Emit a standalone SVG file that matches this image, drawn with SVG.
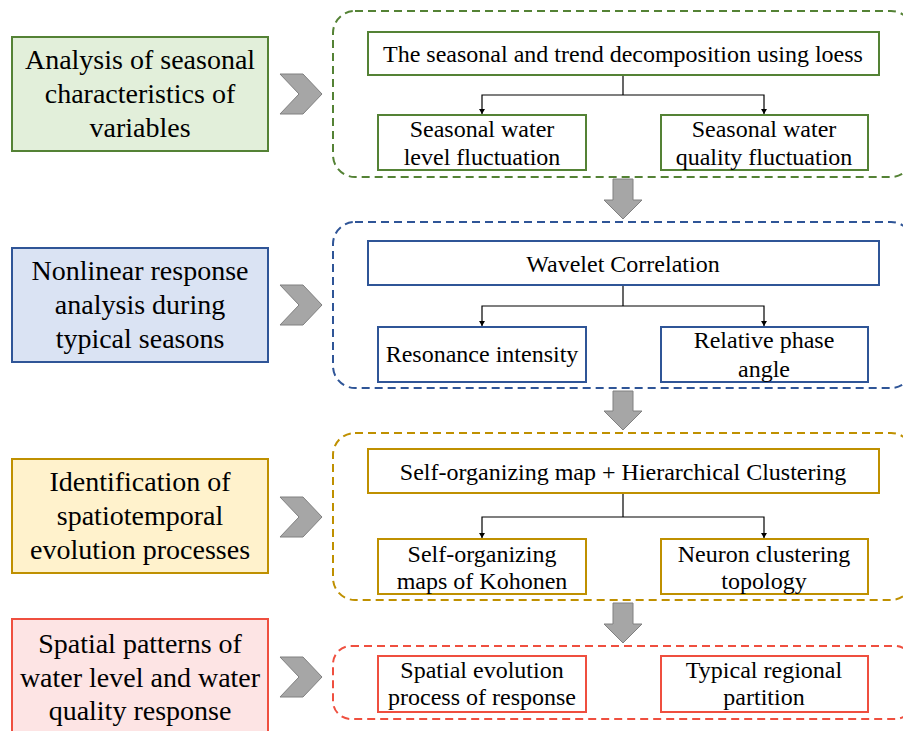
<svg xmlns="http://www.w3.org/2000/svg" width="903" height="731" viewBox="0 0 903 731">
<style>
text{font-family:'Liberation Serif','DejaVu Serif',Tinos,'Times New Roman',serif;fill:#000;text-anchor:middle}
.big{font-size:28px}
.sm{font-size:24px}
.box{stroke-width:2}
.cont{fill:none;stroke-width:2;stroke-dasharray:8 5}
.g{stroke:#548235}
.b{stroke:#2f5597}
.y{stroke:#bf9000}
.r{stroke:#ef4f3f}
.chev,.down{fill:#a6a6a6;stroke:#808080;stroke-width:1}
.conn{fill:none;stroke:#000;stroke-width:1.2}
</style>
<defs>
<marker id="ah" markerWidth="6" markerHeight="6" refX="5" refY="3" orient="auto" markerUnits="userSpaceOnUse">
<path d="M0,0 L5,3 L0,6 Z" fill="#000"/>
</marker>
</defs>
<rect width="903" height="731" fill="#fff"/>

<g id="containers">
<rect class="cont g" x="333" y="11" width="580" height="166" rx="22"/>
<rect class="cont b" x="333" y="222" width="580" height="166" rx="22"/>
<rect class="cont y" x="333" y="433" width="580" height="167" rx="22"/>
<rect class="cont r" x="333" y="646" width="580" height="73" rx="18"/>
</g>

<g font-family="Liberation Serif, DejaVu Serif, serif">
<g id="stage1">
<rect class="box g" x="12" y="37" width="256" height="114" fill="#e2efda"/>
<text class="big" x="140" y="69">Analysis of seasonal</text>
<text class="big" x="140" y="103">characteristics of</text>
<text class="big" x="140" y="137">variables</text>
</g>
<g id="stage2">
<rect class="box b" x="12" y="248" width="256" height="114" fill="#dae3f3"/>
<text class="big" x="140" y="280">Nonlinear response</text>
<text class="big" x="140" y="314">analysis during</text>
<text class="big" x="140" y="348">typical seasons</text>
</g>
<g id="stage3">
<rect class="box y" x="12" y="459" width="256" height="114" fill="#fff2cc"/>
<text class="big" x="140" y="491">Identification of</text>
<text class="big" x="140" y="525">spatiotemporal</text>
<text class="big" x="140" y="559">evolution processes</text>
</g>
<g id="stage4">
<rect class="box r" x="12" y="619" width="256" height="125" fill="#fde4e4"/>
<text class="big" x="140" y="653">Spatial patterns of</text>
<text class="big" x="140" y="687">water level and water</text>
<text class="big" x="140" y="720">quality response</text>
</g>

<g id="chevrons">
<polygon class="chev" points="280,74 303,74 322,94 303,114 280,114 299,94"/>
<polygon class="chev" points="280,285 303,285 322,305 303,325 280,325 299,305"/>
<polygon class="chev" points="280,497 303,497 322,517 303,537 280,537 299,517"/>
<polygon class="chev" points="280,657 303,657 322,677 303,697 280,697 299,677"/>
</g>

<g id="downarrows">
<polygon class="down" points="613,179 633,179 633,200 642,200 623,219 604,200 613,200"/>
<polygon class="down" points="613,391 633,391 633,411 642,411 623,430 604,411 613,411"/>
<polygon class="down" points="613,603 633,603 633,624 642,624 623,643 604,624 613,624"/>
</g>

<g id="stl">
<rect class="box g" x="368" y="32" width="511" height="43" fill="#fff"/>
<text class="sm" x="623" y="62">The seasonal and trend decomposition using loess</text>
</g>
<g id="seasonal-level">
<rect class="box g" x="378" y="115" width="208" height="55" fill="#fff"/>
<text class="sm" x="482" y="137">Seasonal water</text>
<text class="sm" x="482" y="165">level fluctuation</text>
</g>
<g id="seasonal-quality">
<rect class="box g" x="661" y="115" width="207" height="55" fill="#fff"/>
<text class="sm" x="764" y="137">Seasonal water</text>
<text class="sm" x="764" y="165">quality fluctuation</text>
</g>

<g id="wavelet">
<rect class="box b" x="368" y="241" width="511" height="44" fill="#fff"/>
<text class="sm" x="623" y="272">Wavelet Correlation</text>
</g>
<g id="resonance">
<rect class="box b" x="378" y="327" width="208" height="55" fill="#fff"/>
<text class="sm" x="482" y="362">Resonance intensity</text>
</g>
<g id="phase">
<rect class="box b" x="661" y="327" width="207" height="55" fill="#fff"/>
<text class="sm" x="764" y="348">Relative phase</text>
<text class="sm" x="764" y="377">angle</text>
</g>

<g id="som-hc">
<rect class="box y" x="368" y="449" width="511" height="44" fill="#fff"/>
<text class="sm" x="623" y="480">Self-organizing map + Hierarchical Clustering</text>
</g>
<g id="som">
<rect class="box y" x="378" y="539" width="208" height="55" fill="#fff"/>
<text class="sm" x="482" y="562">Self-organizing</text>
<text class="sm" x="482" y="589">maps of Kohonen</text>
</g>
<g id="neuron">
<rect class="box y" x="661" y="539" width="207" height="55" fill="#fff"/>
<text class="sm" x="764" y="562">Neuron clustering</text>
<text class="sm" x="764" y="589">topology</text>
</g>

<g id="spatial-evolution">
<rect class="box r" x="378" y="656" width="208" height="56" fill="#fff"/>
<text class="sm" x="482" y="678">Spatial evolution</text>
<text class="sm" x="482" y="705">process of response</text>
</g>
<g id="regional">
<rect class="box r" x="661" y="656" width="207" height="56" fill="#fff"/>
<text class="sm" x="764" y="678">Typical regional</text>
<text class="sm" x="764" y="705">partition</text>
</g>
</g>

<g id="connectors">
<path class="conn" d="M623,76 V95"/>
<path class="conn" d="M623,95 H482 V114" marker-end="url(#ah)"/>
<path class="conn" d="M623,95 H764 V114" marker-end="url(#ah)"/>
<path class="conn" d="M623,286 V306"/>
<path class="conn" d="M623,306 H482 V326" marker-end="url(#ah)"/>
<path class="conn" d="M623,306 H764 V326" marker-end="url(#ah)"/>
<path class="conn" d="M623,494 V517"/>
<path class="conn" d="M623,517 H482 V538" marker-end="url(#ah)"/>
<path class="conn" d="M623,517 H764 V538" marker-end="url(#ah)"/>
</g>
</svg>
